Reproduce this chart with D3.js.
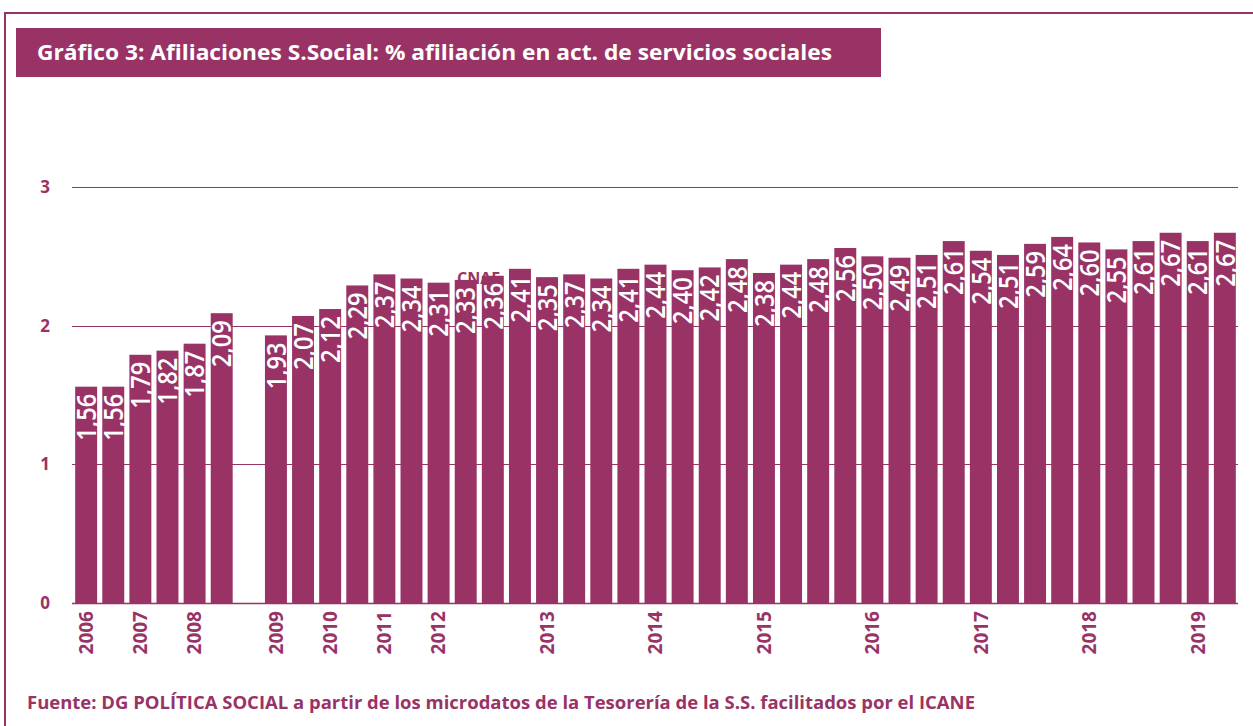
<!DOCTYPE html>
<meta charset="utf-8">
<html>
<head>
<style>
  body { margin: 0; background: #fff; }
  svg text { font-family: "Open Sans", "Noto Sans", sans-serif; }
</style>
</head>
<body>
<div id="chart"></div>
<script src="https://d3js.org/d3.v7.min.js"></script>
<script>
  // one slot per bar, "" = no year tick, null = empty slot
  var yearLabels = ["2006","","2007","","2008","","",
                    "2009","","2010","","2011","","2012","","","",
                    "2013","","","","2014","","","","2015","","","",
                    "2016","","","","2017","","","","2018","","","","2019",""];
  var values = [1.56, 1.56, 1.79, 1.82, 1.87, 2.09, null,
                1.93, 2.07, 2.12, 2.29, 2.37, 2.34, 2.31, 2.33, 2.36, 2.41,
                2.35, 2.37, 2.34, 2.41, 2.44, 2.40, 2.42, 2.48, 2.38, 2.44,
                2.48, 2.56, 2.50, 2.49, 2.51, 2.61, 2.54, 2.51, 2.59, 2.64,
                2.60, 2.55, 2.61, 2.67, 2.61, 2.67];
  var yTicks = [0, 1, 2, 3];

  var titleText = "Gráfico 3: Afiliaciones S.Social: % afiliación en act. de servicios sociales";
  var sourceText = "Fuente: DG POLÍTICA SOCIAL a partir de los microdatos de la Tesorería de la S.S. facilitados por el ICANE";

  var plum = "#993366";
  var W = 1253, H = 726;

  var svg = d3.select("#chart").append("svg")
    .attr("width", W).attr("height", H);

  // outer frame
  svg.append("path")
    .attr("d", "M5," + H + " V13 H" + W)
    .attr("fill", "none")
    .attr("stroke", plum)
    .attr("stroke-width", 2);

  // title box
  svg.append("rect")
    .attr("x", 16).attr("y", 28)
    .attr("width", 865).attr("height", 49)
    .attr("fill", plum);
  svg.append("text")
    .attr("x", 37).attr("y", 60)
    .attr("fill", "#fff")
    .attr("font-size", 21)
    .attr("font-weight", "bold")
    .attr("textLength", 795)
    .attr("lengthAdjust", "spacingAndGlyphs")
    .text(titleText);

  var x = d3.scaleBand()
    .domain(d3.range(values.length))
    .range([73, 1238])
    .paddingInner(0.19)
    .paddingOuter(0.08);

  var y = d3.scaleLinear()
    .domain([0, 3])
    .range([603, 187]);

  // gridlines
  svg.append("g")
    .selectAll("line")
    .data(yTicks)
    .join("line")
      .attr("x1", 72).attr("x2", 1238)
      .attr("y1", function(d) { return Math.round(y(d)) + 0.5; })
      .attr("y2", function(d) { return Math.round(y(d)) + 0.5; })
      .attr("stroke", plum)
      .attr("stroke-width", function(d) { return d === 0 ? 1.5 : 1; });

  // y labels
  svg.append("g")
    .selectAll("text")
    .data(yTicks)
    .join("text")
      .attr("x", 45)
      .attr("y", function(d) { return y(d); })
      .attr("dy", "0.36em")
      .attr("text-anchor", "middle")
      .attr("fill", plum)
      .attr("font-size", 17)
      .attr("font-weight", "bold")
      .text(function(d) { return d; });

  // stray label hidden behind the bars
  svg.append("text")
    .attr("x", 457).attr("y", 284)
    .attr("fill", plum)
    .attr("font-size", 16)
    .attr("font-weight", "bold")
    .text("CNAE");

  var data = values.map(function(v, i) { return { i: i, v: v }; })
    .filter(function(d) { return d.v !== null; });

  svg.append("g")
    .selectAll("rect")
    .data(data)
    .join("rect")
      .attr("x", function(d) { return x(d.i); })
      .attr("y", function(d) { return y(d.v); })
      .attr("width", x.bandwidth())
      .attr("height", function(d) { return y(0) - y(d.v); })
      .attr("fill", plum);

  // value labels inside bars
  svg.append("g")
    .selectAll("text")
    .data(data)
    .join("text")
      .attr("transform", function(d) {
        return "translate(" + (x(d.i) + x.bandwidth() / 2) + "," + (y(d.v) + 7) + ") rotate(-90)";
      })
      .attr("text-anchor", "end")
      .attr("dy", "0.36em")
      .attr("fill", "#fff")
      .attr("font-size", 27)
      .attr("font-weight", 600)
      .attr("textLength", 47)
      .attr("lengthAdjust", "spacingAndGlyphs")
      .text(function(d) { return d3.format(".2f")(d.v).replace(".", ","); });

  // year labels
  svg.append("g")
    .selectAll("text")
    .data(yearLabels.map(function(t, i) { return { i: i, t: t }; }).filter(function(d) { return d.t; }))
    .join("text")
      .attr("transform", function(d) {
        return "translate(" + (x(d.i) + x.bandwidth() / 2) + ",611) rotate(-90)";
      })
      .attr("text-anchor", "end")
      .attr("dy", "0.36em")
      .attr("fill", plum)
      .attr("font-size", 19)
      .attr("font-weight", "bold")
      .text(function(d) { return d.t; });

  // source
  svg.append("text")
    .attr("x", 27).attr("y", 709)
    .attr("fill", plum)
    .attr("font-size", 17)
    .attr("font-weight", "bold")
    .attr("textLength", 948)
    .attr("lengthAdjust", "spacingAndGlyphs")
    .text(sourceText);
</script>
</body>
</html>
